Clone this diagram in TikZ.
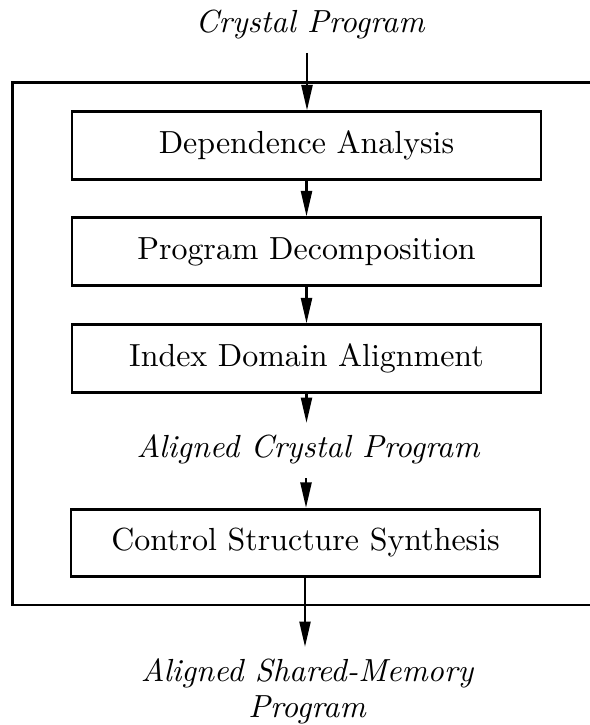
\documentclass[tikz,border=0pt]{standalone}
\usepackage{tikz}
\usetikzlibrary{arrows.meta}

\begin{document}
\begin{tikzpicture}[x=0.011cm,y=-0.011cm,>={Triangle[length=2.8mm,width=1.2mm]},
  stage/.style={draw,line width=0.9pt,minimum width=5.16cm,minimum height=0.74cm,inner sep=0pt},
  label/.style={font=\itshape,align=center,anchor=base}]
\useasboundingbox (0,0) rectangle (590,725);
\draw[line width=0.9pt] (12.5,82.5) rectangle (620,605);
\node[label] (src) at (310,33) {Crystal Program};
\coordinate (in) at (307,53);
\node[stage] (dep) at (306.5,145.5) {Dependence Analysis};
\node[stage] (dec) at (306.5,251.5) {Program Decomposition};
\node[stage] (ida) at (306.5,358.5) {Index Domain Alignment};
\node[label] (acp) at (308,457) {Aligned Crystal Program};
\coordinate (mid) at (306,478);
\node[stage] (css) at (305.5,543) {Control Structure Synthesis};
\node[label] (asm) at (307,717) {Aligned Shared-Memory\\[-1pt]Program};
\coordinate (out) at (305,647);
\draw[->,line width=0.8pt] (in) -- (dep.north -| in);
\draw[->,line width=0.8pt] (dep.south) -- (dec.north);
\draw[->,line width=0.8pt] (dec.south) -- (ida.north);
\draw[->,line width=0.8pt] (ida.south) -- (ida.south |- 0,423);
\draw[->,line width=0.8pt] (mid) -- (css.north -| mid);
\draw[->,line width=0.8pt] (css.south -| out) -- (out);
\end{tikzpicture}
\end{document}
